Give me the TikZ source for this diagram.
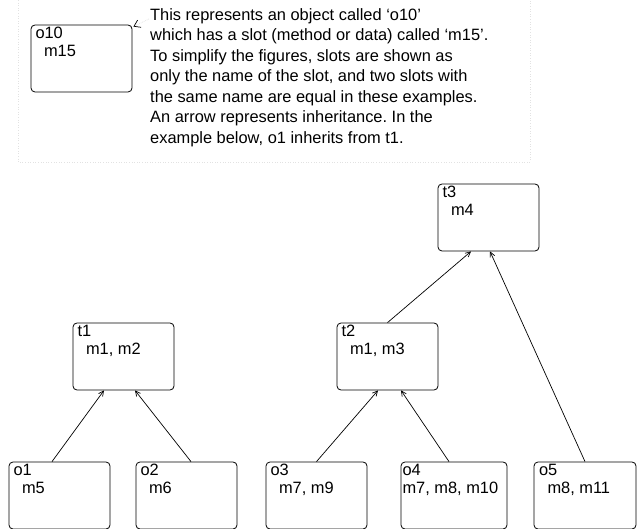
\documentclass[tikz,border=0pt]{standalone}
\usepackage{fontspec}
\setmainfont{Liberation Sans}
\usepackage{xcolor}
\usetikzlibrary{arrows.meta,positioning}
\definecolor{ink}{HTML}{000000}
\definecolor{framegray}{HTML}{E2E2E2}
\frenchspacing
\newcommand{\slotbox}[2]{\parbox[t][63pt][t]{92pt}{\raggedright #1\\\hspace*{8.5pt}#2}}
\tikzset{
  objbox/.style={draw=ink,line width=0.8pt,rounded corners=4pt,
                 minimum width=101pt,minimum height=67pt,
                 inner xsep=4.5pt,inner ysep=2pt,
                 font=\fontsize{16.4}{18}\selectfont},
  inharr/.style={-{Straight Barb[length=5pt,width=5pt]},line width=0.7pt,
                 draw=ink},
  notearr/.style={-{Straight Barb[length=6pt,width=8pt,color=ink]},
                  line width=0.7pt,draw=framegray,densely dotted}
}

\begin{document}
\begin{tikzpicture}[x=1pt,y=-1pt]
    \path[use as bounding box] (0,0) rectangle (637,529);
    % note frame
    \draw[framegray,dotted,line width=0.6pt] (18,0) -- (18,162) -- (530,162) -- (530,0);
    \node[objbox] (o10) at (81.5,58.5) {\slotbox{o10}{m15}};
    \node[anchor=north west,inner sep=0pt,align=left,
          font=\fontsize{16.4}{20.5}\selectfont] (note) at (150,8.2)
      {This represents an object called ‘o10’\\
       which has a slot (method or data) called ‘m15’.\\
       To simplify the figures, slots are shown as\\
       only the name of the slot, and two slots with\\
       the same name are equal in these examples.\\
       An arrow represents inheritance. In the\\
       example below, o1 inherits from t1.};
    \coordinate (notetip) at (149,19);
    \draw[notearr] (notetip) -- ([shift={(1pt,-2pt)}]o10.north east);
    % classes
    \node[objbox] (t3) at (488.5,217.5) {\slotbox{t3}{m4}};
    \node[objbox] (t1) at (123.5,356.5) {\slotbox{t1}{m1, m2}};
    \node[objbox] (t2) at (387.5,356.5) {\slotbox{t2}{m1, m3}};
    % objects
    \node[objbox] (o1) at (59.5,495.5) {\slotbox{o1}{m5}};
    \node[objbox] (o2) at (186.5,495.5) {\slotbox{o2}{m6}};
    \node[objbox] (o3) at (316.5,495.5) {\slotbox{o3}{m7, m9}};
    \node[objbox,minimum width=106pt,inner xsep=1.5pt] (o4) at (454,495.5)
      {\parbox[t][63pt][t]{103pt}{\raggedright o4\\m7, m8, m10}};
    \node[objbox,minimum width=102pt] (o5) at (585,495.5)
      {\slotbox{o5}{m8, m11}};
    % inheritance
    \draw[inharr] ([xshift=-7.5pt]o1.north) -- ([xshift=-19.5pt]t1.south);
    \draw[inharr] ([xshift=4.5pt]o2.north) -- ([xshift=11.5pt]t1.south);
    \draw[inharr] (o3.north) -- ([xshift=-9.5pt]t2.south);
    \draw[inharr] ([xshift=-5pt]o4.north) -- ([xshift=13.5pt]t2.south);
    \draw[inharr] (t2.north) -- ([xshift=-17.5pt]t3.south);
    \draw[inharr] (o5.north) -- ([xshift=1.5pt]t3.south);
  \end{tikzpicture}
\end{document}
